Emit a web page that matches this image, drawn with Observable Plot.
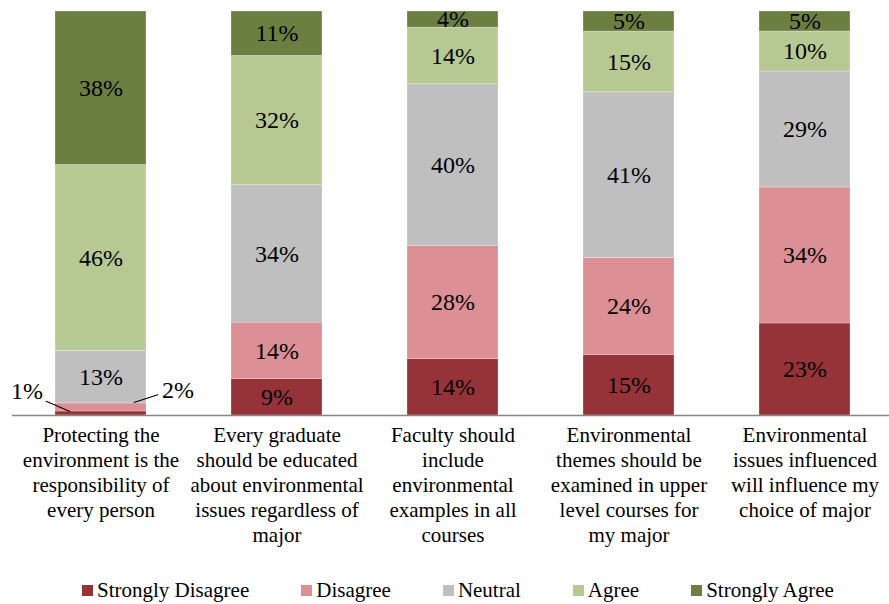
<!DOCTYPE html>
<html>
<head>
<meta charset="utf-8">
<script src="https://cdn.jsdelivr.net/npm/d3@7"></script>
<script src="https://cdn.jsdelivr.net/npm/@observablehq/plot@0.6"></script>
<style>
  html, body { margin: 0; padding: 0; background: #fff; }
  body { width: 889px; height: 604px; position: relative; overflow: hidden; font-family: "Liberation Serif", "Times New Roman", serif; }
  #legend { position: absolute; top: 577px; left: 82px; display: flex; align-items: center; font-size: 21px; line-height: 26px; color: #000; white-space: nowrap; }
  #legend .item { display: flex; align-items: center; margin-right: 52px; }
  #legend .item:last-child { margin-right: 0; }
  #legend .sw { width: 11px; height: 11px; margin-right: 4px; display: inline-block; }
</style>
</head>
<body>
<div id="chart"></div>
<div id="legend"></div>
<script>
// ---- data ----
const categories = [
  "Protecting the environment is the responsibility of every person",
  "Every graduate should be educated about environmental issues regardless of major",
  "Faculty should include environmental examples in all courses",
  "Environmental themes should be examined in upper level courses for my major",
  "Environmental issues influenced will influence my choice of major"
];
const tickLabels = [
  "Protecting the\nenvironment is the\nresponsibility of\nevery person",
  "Every graduate\nshould be educated\nabout environmental\nissues regardless of\nmajor",
  "Faculty should\ninclude\nenvironmental\nexamples in all\ncourses",
  "Environmental\nthemes should be\nexamined in upper\nlevel courses for\nmy major",
  "Environmental\nissues influenced\nwill influence my\nchoice of major"
];
const levels = ["Strongly Disagree", "Disagree", "Neutral", "Agree", "Strongly Agree"];
const stronglyDisagree = [1, 9, 14, 15, 23];
const disagree         = [2, 14, 28, 24, 34];
const neutral          = [13, 34, 40, 41, 29];
const agree            = [46, 32, 14, 15, 10];
const stronglyAgree    = [38, 11, 4, 5, 5];
const colors = ["#953339", "#dc9095", "#bfbfbf", "#b7c993", "#6b7f41"];

const series = [stronglyDisagree, disagree, neutral, agree, stronglyAgree];
const data = [];
categories.forEach((c, i) => {
  levels.forEach((lv, j) => {
    data.push({category: c, level: lv, value: series[j][i], idx: i});
  });
});

// small values in the first bar are labelled outside with leader lines
const isOutside = d => d.idx === 0 && (d.level === "Strongly Disagree" || d.level === "Disagree");

const total0 = series.reduce((s, arr) => s + arr[0], 0);
const sdMid = (stronglyDisagree[0] / 2) / total0;
const dMid = (stronglyDisagree[0] + disagree[0] / 2) / total0;
const outside = [
  {category: categories[0], y: sdMid, text: stronglyDisagree[0] + "%"},
  {category: categories[0], y: dMid, text: disagree[0] + "%"}
];

const lineShape = {
  draw(context, l) { context.moveTo(0, 0); context.lineTo(0, -l); }
};

const plot = Plot.plot({
  width: 889,
  height: 560,
  marginTop: 11,
  marginBottom: 145,
  marginLeft: 12,
  marginRight: 0,
  style: {fontFamily: "Liberation Serif, Times New Roman, serif", background: "#fff"},
  x: {domain: categories, range: [12, 893], paddingInner: 0.484, paddingOuter: 0.242, axis: null},
  y: {domain: [0, 1], axis: null},
  color: {domain: levels, range: colors},
  marks: [
    Plot.barY(data, Plot.stackY({
      x: "category", y: "value", z: "level", fill: "level",
      order: levels, offset: "normalize",
      stroke: "#ffffff", strokeOpacity: 0.35, strokeWidth: 0.75, inset: 0
    })),
    Plot.ruleY([0], {stroke: "#868686", strokeWidth: 1.5}),
    Plot.text(data, Plot.stackY({
      x: "category", y: "value", z: "level",
      order: levels, offset: "normalize",
      text: d => isOutside(d) ? "" : d.value + "%",
      fontSize: 24, fill: "#000"
    })),
    // outside labels for the first bar
    Plot.text([outside[0]], {x: "category", y: "y", text: "text", dx: -74, dy: -22, fontSize: 24, fill: "#000"}),
    Plot.text([outside[1]], {x: "category", y: "y", text: "text", dx: 77, dy: -17, fontSize: 24, fill: "#000"}),
    Plot.vector([outside[0]], {x: "category", y: "y", dx: -31, dy: -2, length: 26, rotate: -67, anchor: "start", shape: lineShape, stroke: "#000", strokeWidth: 1}),
    Plot.vector([outside[1]], {x: "category", y: "y", dx: 33, dy: -5, length: 25, rotate: 72, anchor: "start", shape: lineShape, stroke: "#000", strokeWidth: 1}),
    // category labels
    Plot.text(categories, {
      x: d => d, text: (d, i) => tickLabels[i],
      frameAnchor: "bottom", lineAnchor: "top", dy: 9,
      fontSize: 21, lineHeight: 1.19, fill: "#000"
    })
  ]
});
document.getElementById("chart").appendChild(plot);

// legend
const legend = document.getElementById("legend");
levels.forEach((lv, j) => {
  const item = document.createElement("div");
  item.className = "item";
  const sw = document.createElement("span");
  sw.className = "sw";
  sw.style.background = colors[j];
  const t = document.createElement("span");
  t.textContent = lv;
  item.appendChild(sw);
  item.appendChild(t);
  legend.appendChild(item);
});
</script>
</body>
</html>
